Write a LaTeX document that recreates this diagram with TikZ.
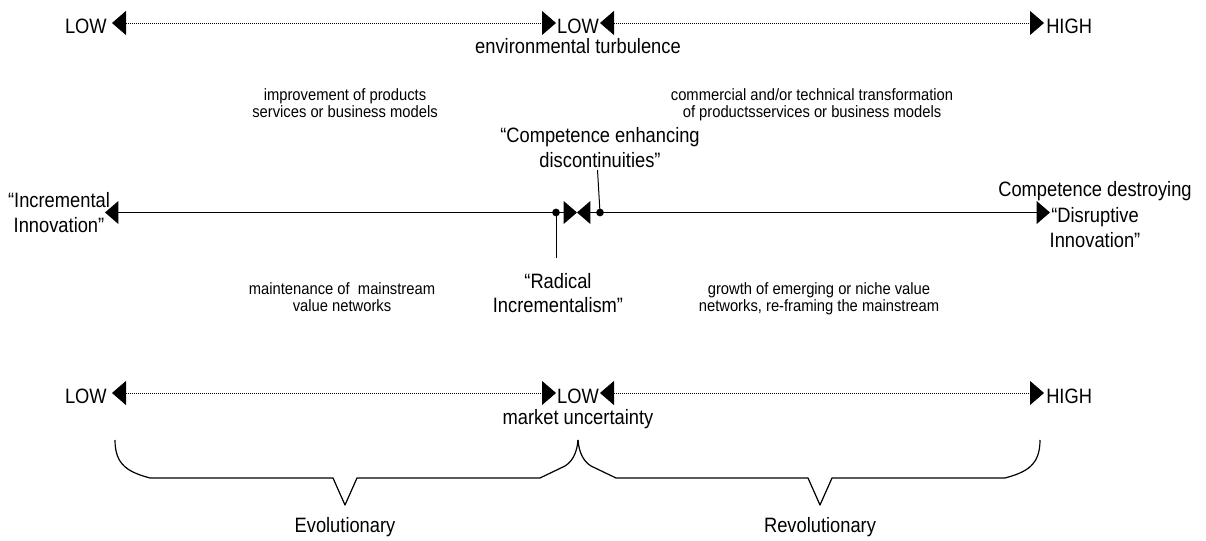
\documentclass[tikz,border=0pt]{standalone}
\usepackage{fontspec}
\setmainfont{Liberation Sans}
\newfontfamily\narrowbig[FakeStretch=0.88]{Liberation Sans}
\newfontfamily\narrowsmall[FakeStretch=0.9]{Liberation Sans}
\usetikzlibrary{arrows.meta}
\begin{document}
\begin{tikzpicture}[x=0.75pt,y=-0.75pt,
  big/.style={font=\narrowbig\fontsize{15.6pt}{18.4pt}\selectfont, inner sep=0pt, anchor=base},
  small/.style={font=\narrowsmall\fontsize{12.3pt}{12.6pt}\selectfont, inner sep=0pt, anchor=base},
  dotarrow/.style={line width=0.6pt, dash pattern=on 0.75pt off 0.75pt, {Triangle[length=10.5pt,width=18pt]}-{Triangle[length=10.5pt,width=18pt]}},
  solidarrow/.style={line width=1.1pt, {Triangle[length=10pt,width=17pt]}-{Triangle[length=10pt,width=17pt]}},
  dotmark/.style={circle, fill=black, inner sep=0pt, minimum size=5.8pt},
  leader/.style={line width=0.75pt},
  bracepath/.style={line width=0.9pt, line join=round}
]
\useasboundingbox (0,0) rectangle (1206,541);

% ---------- top scale ----------
\coordinate (tl) at (112,23);
\coordinate (tm1) at (556,23);
\coordinate (tm2) at (600,23);
\coordinate (tr) at (1044,23);
\draw[dotarrow] (tl) -- (tm1);
\draw[dotarrow] (tm2) -- (tr);
\node[big, anchor=base east] (tlow) at (107,33.3) {LOW};
\node[big] (tlowm) at (578,33.3) {LOW};
\node[big, anchor=base west] (thigh) at (1046,33.3) {HIGH};
\node[big] (env) at (578,54) {environmental turbulence};

% ---------- small labels top ----------
\node[small] (imp1) at (345,101) {improvement of products};
\node[small] (imp2) at (345,118) {services or business models};
\node[small] (com1) at (812,101) {commercial and/or technical transformation};
\node[small] (com2) at (812,118) {of productsservices or business models};

% ---------- competence enhancing ----------
\node[big] (ce1) at (600,143) {“Competence enhancing};
\node[big] (ce2) at (600,167.5) {discontinuities”};

% ---------- middle scale ----------
\coordinate (ml) at (105,212.5);
\coordinate (mm) at (577,212.5);
\coordinate (mr) at (1050,212.5);
\draw[solidarrow] (ml) -- (mm);
\draw[solidarrow] (mm) -- (mr);
\node[big] (inc1) at (59,208) {“Incremental};
\node[big] (inc2) at (59,233) {Innovation”};
\node[big] (dis1) at (1095,196.7) {Competence destroying};
\node[big] (dis2) at (1095,222.5) {“Disruptive};
\node[big] (dis3) at (1095,248) {Innovation”};

\node[dotmark] (dotl) at (556,212.5) {};
\node[dotmark] (dotr) at (600,212.5) {};
\coordinate (dotlend) at (556,258);
\coordinate (dotrend) at (597.5,170);
\draw[leader] (dotl.center) -- (dotlend);
\draw[leader] (dotr.center) -- (dotrend);

\node[big] (rad1) at (558,289) {“Radical};
\node[big] (rad2) at (558,313) {Incrementalism”};

% ---------- small labels bottom ----------
\node[small] (mai1) at (342,295) {maintenance of \ mainstream};
\node[small] (mai2) at (342,311.7) {value networks};
\node[small] (gro1) at (819,295) {growth of emerging or niche value};
\node[small] (gro2) at (819,311.7) {networks, re-framing the mainstream};

% ---------- bottom scale ----------
\coordinate (bl) at (112,393);
\coordinate (bm1) at (556,393);
\coordinate (bm2) at (600,393);
\coordinate (br) at (1044,393);
\draw[dotarrow] (bl) -- (bm1);
\draw[dotarrow] (bm2) -- (br);
\node[big, anchor=base east] (blow) at (107,403.3) {LOW};
\node[big] (blowm) at (578,403.3) {LOW};
\node[big, anchor=base west] (bhigh) at (1046,403.3) {HIGH};
\node[big] (mkt) at (578,424) {market uncertainty};

% ---------- braces ----------
\draw[bracepath] (115,440) .. controls (115,465) and (128,472) .. (150,478)
  -- (333,478) -- (345,505) -- (357,478) -- (540,478) -- (565,466)
  .. controls (573,461) and (577,452) .. (578,440);
\draw[bracepath] (578,440) .. controls (579,452) and (583,461) .. (591,466)
  -- (616,478) -- (808,478) -- (820,505) -- (832,478) -- (1005,478)
  .. controls (1027,472) and (1040,465) .. (1040,440);
\node[big] (evo) at (345,532.7) {Evolutionary};
\node[big] (rev) at (820,532.7) {Revolutionary};
\end{tikzpicture}
\end{document}
